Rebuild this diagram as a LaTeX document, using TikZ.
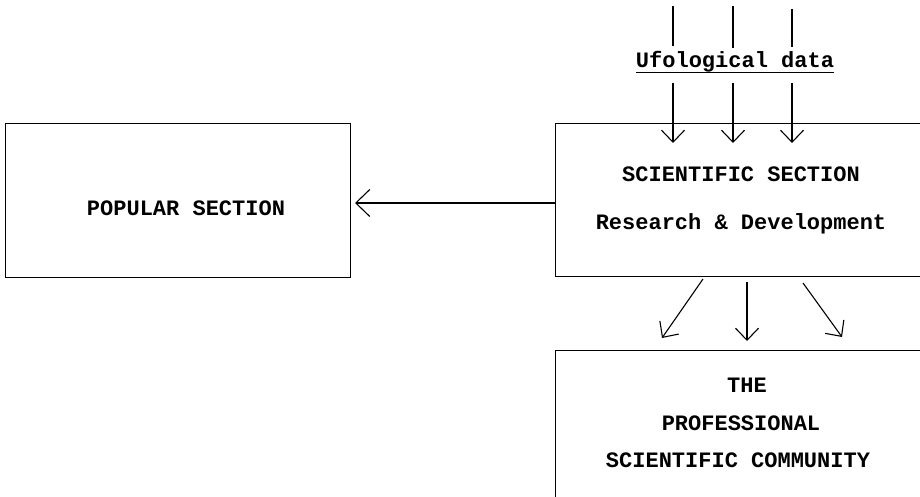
\documentclass[tikz,border=0pt]{standalone}
\usepackage{fontspec}
\setmonofont{Liberation Mono}
\usetikzlibrary{arrows.meta,calc}
\begin{document}
\begin{tikzpicture}[x=1pt,y=-1pt,
  box/.style={draw, line width=1.2pt, rectangle, inner sep=0pt},
  lbl/.style={font=\ttfamily\bfseries\fontsize{22}{26}\selectfont, inner sep=0pt, anchor=base},
  conn/.style={line width=1.1pt},
  arr/.style={conn, -{Straight Barb[length=12pt,width=23pt,line width=1.1pt]}}]
\clip (0,0) rectangle (920,497);
\fill[white] (0,0) rectangle (920,497);
% boxes
\node[box, minimum width=345pt, minimum height=154pt, anchor=north west] (pop) at (5,123) {};
\node[box, minimum width=380pt, minimum height=153pt, anchor=north west] (sci) at (555,123) {};
\node[box, minimum width=380pt, minimum height=170pt, anchor=north west] (pro) at (555,350) {};
% texts
\node[lbl] (popT) at (186,215) {POPULAR SECTION};
\node[lbl] (sciT1) at (741,182) {SCIENTIFIC SECTION};
\node[lbl] (sciT2) at (741,229) {Research \& Development};
\node[lbl] (proT1) at (747,392) {THE};
\node[lbl] (proT2) at (741,430) {PROFESSIONAL};
\node[lbl] (proT3) at (738,467) {SCIENTIFIC COMMUNITY};
\node[lbl] (ufo) at (735,68) {Ufological data};
\draw[line width=1pt] ($(ufo.base west)+(0,5)$) coordinate (ul1) -- ($(ufo.base east)+(0,5)$) coordinate (ul2);
% data arrows
\coordinate (a1) at (673,6);  \coordinate (a1b) at (673,46);
\coordinate (a2) at (733,6);  \coordinate (a2b) at (733,48);
\coordinate (a3) at (792,9);  \coordinate (a3b) at (792,47);
\coordinate (b1) at (673,83); \coordinate (t1) at (673,143);
\coordinate (b2) at (733,83); \coordinate (t2) at (733,143);
\coordinate (b3) at (792,83); \coordinate (t3) at (792,143);
\draw[conn] (a1) -- (a1b);
\draw[conn] (a2) -- (a2b);
\draw[conn] (a3) -- (a3b);
\draw[arr] (b1) -- (t1);
\draw[arr] (b2) -- (t2);
\draw[arr] (b3) -- (t3);
% to popular
\coordinate (pe) at (355,203);
\draw[conn, -{Straight Barb[length=14pt,width=27pt,line width=1.1pt]}] (sci.west |- pe) -- (pe);
% to professional
\coordinate (s1) at (703,279); \coordinate (e1) at (662,338);
\coordinate (s2) at (747,282); \coordinate (e2) at (747,341);
\coordinate (s3) at (803,283); \coordinate (e3) at (842,337);
\draw[arr] (s1) -- (e1);
\draw[arr] (s2) -- (e2);
\draw[arr] (s3) -- (e3);
\end{tikzpicture}
\end{document}
